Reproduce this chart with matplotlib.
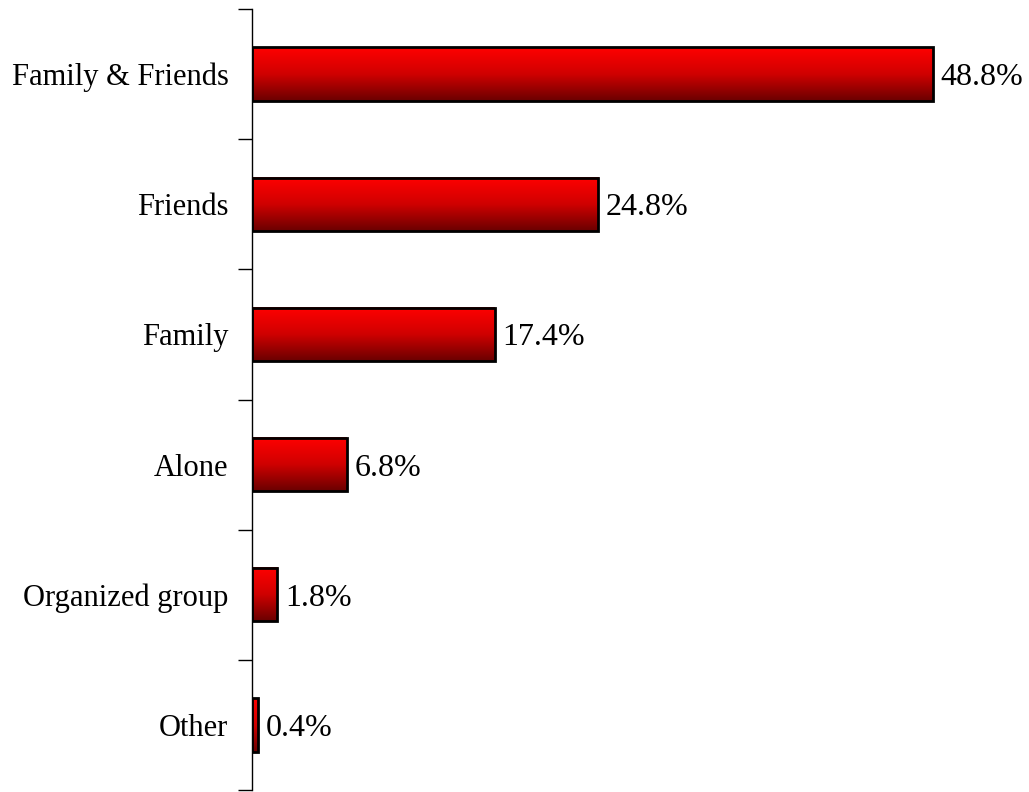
import matplotlib
matplotlib.use("Agg")
import matplotlib.pyplot as plt
import numpy as np
from matplotlib.colors import LinearSegmentedColormap
from matplotlib.patches import Rectangle

categories = ['Family & Friends', 'Friends', 'Family', 'Alone', 'Organized group', 'Other']
values = [48.8, 24.8, 17.4, 6.8, 1.8, 0.4]

plt.rcParams['font.family'] = ['Liberation Serif', 'DejaVu Serif']

fig = plt.figure(figsize=(10.29, 7.92), dpi=100)
ax = fig.add_axes([252/1029, 2/792, 777/1029, 781/792])

# gradient: bright red on top, dark red at bottom
cmap = LinearSegmentedColormap.from_list('redgrad', ['#FF0000', '#D00000', '#6A0000'])
grad = np.linspace(0, 1, 256).reshape(-1, 1)

bar_h = 0.41
for i, v in enumerate(values):
    top = i - bar_h / 2
    bot = i + bar_h / 2
    ax.imshow(grad, cmap=cmap, aspect='auto', extent=[0, v, bot, top],
              interpolation='bilinear', zorder=2)
    ax.add_patch(Rectangle((0, top), v, bar_h, fill=False, edgecolor='black',
                           linewidth=2, zorder=3))
    ax.text(v + 0.55, i, f'{v:.1f}%', va='center_baseline', ha='left', fontsize=23)

ax.set_xlim(0, 777 / 13.955)
ax.set_ylim(len(categories) - 0.5, -0.5)

ax.set_yticks(range(len(categories)))
ax.set_yticklabels(categories, fontsize=22)
ax.tick_params(axis='y', which='major', length=0, pad=17)
ax.set_yticks(np.arange(-0.5, len(categories), 1.0), minor=True)
ax.tick_params(axis='y', which='minor', length=10, width=1.0, color='black')
ax.set_xticks([])

for s in ['top', 'right', 'bottom']:
    ax.spines[s].set_visible(False)
ax.spines['left'].set_linewidth(1.0)

fig.savefig('out.png', dpi=100)
